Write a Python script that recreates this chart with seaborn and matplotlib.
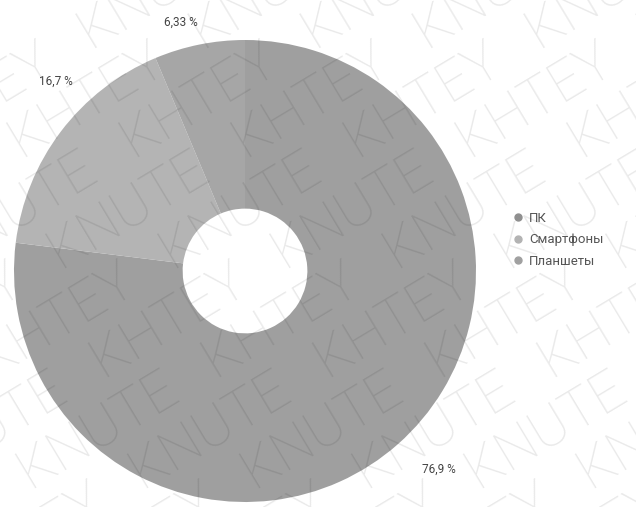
import matplotlib
matplotlib.use("Agg")
import matplotlib.pyplot as plt
import seaborn as sns
import numpy as np

categories = ["ПК", "Смартфоны", "Планшеты"]
values = [76.9, 16.7, 6.33]
pct_labels = ["76,9 %", "16,7 %", "6,33 %"]
colors = ["#9f9f9f", "#b4b4b4", "#a6a6a6"]
legend_colors = ["#8f8f8f", "#b3b3b3", "#a0a0a0"]

sns.set_theme(style="white")
plt.rcParams['font.family'] = ['Roboto', 'DejaVu Sans']

W, H = 636, 507
fig = plt.figure(figsize=(W / 100, H / 100), dpi=100)
cx, cy, R = 245, 271, 231
ax = fig.add_axes([(cx - R) / W, (H - cy - R) / H, 2 * R / W, 2 * R / H])
ax.set_aspect("equal")
ax.axis("off")

wedges, _ = ax.pie(values, colors=colors, startangle=90, counterclock=False,
                   radius=1, wedgeprops=dict(width=0.73, linewidth=0))
ax.set_xlim(-1, 1)
ax.set_ylim(-1, 1)

# percentage labels outside the ring
offsets = [1.2, 1.16, 1.11]
shifts = [3, -8, 3]
start = 90.0
total = sum(values)
for v, lab, r, s in zip(values, pct_labels, offsets, shifts):
    span = 360 * v / total
    mid = np.deg2rad(start - span / 2 + s)
    start -= span
    ax.text(r * np.cos(mid), r * np.sin(mid), lab, ha="center", va="center",
            fontsize=8.5, color="#444444", clip_on=False)

# legend
handles = [plt.Line2D([], [], marker="o", linestyle="", markersize=5,
                      markerfacecolor=c, markeredgecolor=c) for c in legend_colors]
fig.legend(handles, categories, loc="upper left",
           bbox_to_anchor=(500 / W, 1 - 200 / H), frameon=False,
           fontsize=9.5, labelcolor="#555555", handletextpad=0.3,
           labelspacing=0.65, handlelength=1.0)

# watermark
wm = fig.add_axes([0, 0, 1, 1], zorder=10)
wm.set_xlim(0, W)
wm.set_ylim(H, 0)
wm.axis("off")
line = "KNUTE   KHTEY   KNUTE   KHTEY   KNUTE   KHTEY   KNUTE"
for k in range(-6, 11):
    wm.text(k * 112 - 330, 720, line, rotation=31, fontsize=40,
            color="black", alpha=0.085, ha="left", va="bottom",
            rotation_mode="anchor", fontweight="light", clip_on=True)

fig.savefig("out.png", dpi=100)
